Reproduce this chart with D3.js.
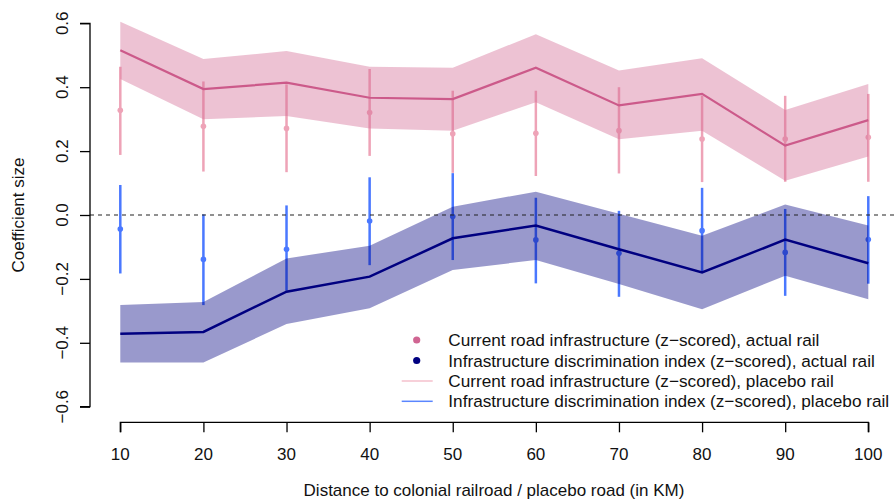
<!DOCTYPE html>
<html><head><meta charset="utf-8">
<script src="https://cdn.jsdelivr.net/npm/d3@7"></script>
<style>body{margin:0;background:#fff}svg{display:block}text{font-family:"Liberation Sans",Arial,Helvetica,sans-serif}</style>
</head><body><svg id="c" width="896" height="503"></svg>
<script>
const distances = [10,20,30,40,50,60,70,80,90,100];
// Placebo rail (bands + lines)
const roadPlaceboEst = [0.516,0.394,0.414,0.367,0.363,0.461,0.343,0.379,0.217,0.297];
const roadPlaceboLo  = [0.426,0.300,0.310,0.271,0.264,0.353,0.237,0.264,0.107,0.183];
const roadPlaceboHi  = [0.605,0.488,0.513,0.464,0.461,0.566,0.452,0.491,0.329,0.410];
const discPlaceboEst = [-0.372,-0.366,-0.240,-0.193,-0.073,-0.033,-0.107,-0.180,-0.077,-0.151];
const discPlaceboLo  = [-0.462,-0.462,-0.341,-0.292,-0.172,-0.141,-0.216,-0.295,-0.190,-0.264];
const discPlaceboHi  = [-0.282,-0.272,-0.136,-0.096,0.026,0.073,0.004,-0.065,0.033,-0.033];
// Actual rail (points + error bars)
const roadActualEst = [0.328,0.278,0.271,0.321,0.254,0.256,0.264,0.238,0.238,0.243];
const roadActualLo  = [0.188,0.136,0.134,0.185,0.132,0.122,0.130,0.103,0.104,0.104];
const roadActualHi  = [0.464,0.418,0.409,0.457,0.389,0.389,0.400,0.373,0.373,0.379];
const discActualEst = [-0.044,-0.139,-0.107,-0.019,-0.005,-0.078,-0.120,-0.049,-0.117,-0.077];
const discActualLo  = [-0.183,-0.282,-0.237,-0.157,-0.141,-0.214,-0.256,-0.179,-0.253,-0.215];
const discActualHi  = [0.094,0.002,0.030,0.118,0.131,0.054,0.013,0.085,0.019,0.059];
const yTicks = [-0.6,-0.4,-0.2,0.0,0.2,0.4,0.6];
const legendLabels = [
  "Current road infrastructure (z\u2212scored), actual rail",
  "Infrastructure discrimination index (z\u2212scored), actual rail",
  "Current road infrastructure (z\u2212scored), placebo rail",
  "Infrastructure discrimination index (z\u2212scored), placebo rail"];

const svg = d3.select("#c");
const x = d3.scaleLinear().domain([10,100]).range([120.3,868.3]);
const y = d3.scaleLinear().domain([-0.6,0.6]).range([406.7,23.3]);
const fmt = v => (v<0?"\u2212":"") + Math.abs(v).toFixed(1);
const FS = 17;

const pinkBand="#d36e96", pinkLine="#cc5a8a", pinkBar="#eea3b7";
const navyBand="#000080", navyLine="#000080", blueBar="#4a78ff";

const rows = distances.map((d,i)=>({d,i}));
function errs(est,lo,hi,col){
  const g = svg.append("g");
  g.selectAll("line").data(rows).join("line")
    .attr("x1",r=>x(r.d)).attr("x2",r=>x(r.d))
    .attr("y1",r=>y(lo[r.i])).attr("y2",r=>y(hi[r.i]))
    .attr("stroke",col).attr("stroke-width",2.5);
  g.selectAll("circle").data(rows).join("circle")
    .attr("cx",r=>x(r.d)).attr("cy",r=>y(est[r.i])).attr("r",2.8).attr("fill",col);
}
errs(roadActualEst,roadActualLo,roadActualHi,pinkBar);
errs(discActualEst,discActualLo,discActualHi,blueBar);

function band(lo,hi,col,op){
  const a = d3.area().x(r=>x(r.d)).y0(r=>y(lo[r.i])).y1(r=>y(hi[r.i]));
  svg.append("path").datum(rows).attr("d",a).attr("fill",col).attr("fill-opacity",op);
}
band(roadPlaceboLo,roadPlaceboHi,pinkBand,0.42);
band(discPlaceboLo,discPlaceboHi,navyBand,0.4);

svg.append("line").attr("x1",90).attr("x2",896).attr("y1",y(0)).attr("y2",y(0))
  .attr("stroke","#222").attr("stroke-width",1.2).attr("stroke-dasharray","4,4");

function ln(est,col,w){
  const l = d3.line().x(r=>x(r.d)).y(r=>y(est[r.i]));
  svg.append("path").datum(rows).attr("d",l).attr("fill","none").attr("stroke",col).attr("stroke-width",w);
}
ln(roadPlaceboEst,pinkLine,2.2);
ln(discPlaceboEst,navyLine,2.5);

const yAx = svg.append("g").attr("transform","translate(90,0)")
  .call(d3.axisLeft(y).tickValues(yTicks).tickSize(10).tickFormat(""));
yAx.select(".domain").attr("d",`M-10,${y(-0.6)}H0V${y(0.6)}H-10`);
yAx.selectAll("line,path").attr("stroke","#000").attr("stroke-width",1.3);
svg.append("g").selectAll("text").data(yTicks).join("text")
  .attr("transform",v=>`translate(62,${y(v)}) rotate(-90)`)
  .attr("text-anchor","middle").attr("dy","0.35em").attr("font-size",FS).attr("fill","#111")
  .text(fmt);

const xAx = svg.append("g").attr("transform","translate(0,422.3)")
  .call(d3.axisBottom(x).tickValues(distances).tickSize(10).tickFormat(""));
xAx.select(".domain").attr("d",`M${x(10)},10V0H${x(100)}V10`);
xAx.selectAll("line,path").attr("stroke","#000").attr("stroke-width",1.3);
svg.append("g").selectAll("text").data(distances).join("text")
  .attr("x",d=>x(d)).attr("y",454).attr("dy","0.35em").attr("text-anchor","middle")
  .attr("font-size",FS).attr("fill","#111").text(d=>d);

svg.append("text").attr("x",494).attr("y",490).attr("dy","0.35em").attr("text-anchor","middle")
  .attr("font-size",FS).attr("fill","#111").text("Distance to colonial railroad / placebo road (in KM)");
svg.append("text").attr("transform",`translate(18,215) rotate(-90)`).attr("text-anchor","middle")
  .attr("dy","0.35em").attr("font-size",FS).attr("fill","#111").text("Coefficient size");

const lg = svg.append("g");
const ly = [340,360.5,381,401.3];
lg.append("circle").attr("cx",416.7).attr("cy",ly[0]).attr("r",3.6).attr("fill","#d06592");
lg.append("circle").attr("cx",416.7).attr("cy",ly[1]).attr("r",3.6).attr("fill","#000080");
lg.append("line").attr("x1",401.7).attr("x2",432.7).attr("y1",ly[2]).attr("y2",ly[2]).attr("stroke","#f5c0cc").attr("stroke-width",1.5);
lg.append("line").attr("x1",401.7).attr("x2",432.7).attr("y1",ly[3]).attr("y2",ly[3]).attr("stroke","#5a86ff").attr("stroke-width",1.5);
lg.selectAll("text").data(legendLabels).join("text")
  .attr("x",448.3).attr("y",(d,i)=>ly[i]).attr("dy","0.35em").attr("font-size",17.2).attr("fill","#111").text(d=>d);
</script></body></html>
